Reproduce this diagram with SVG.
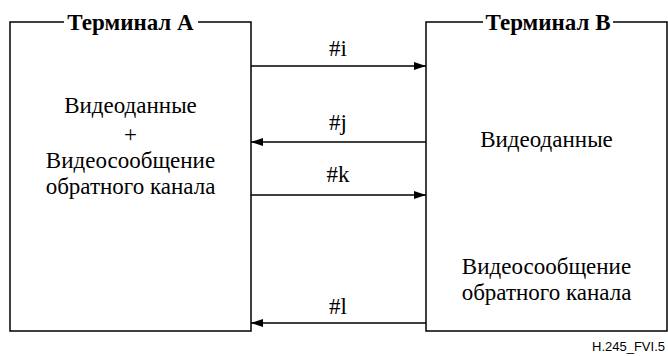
<svg xmlns="http://www.w3.org/2000/svg" width="668" height="356" viewBox="0 0 668 356">
<style>
.box{fill:none;stroke:#000;stroke-width:1.5}
.t{font-family:'Liberation Serif','Times New Roman',serif;font-size:23px;fill:#000;text-anchor:middle}
.title{font-weight:bold;font-size:23px}
.bg{fill:#fff;stroke:none}
.c{stroke:#000;stroke-width:1.5;fill:none}
.note{font-family:'Liberation Sans',Arial,sans-serif;font-size:13px;fill:#000;text-anchor:end}
</style>
<defs>
<marker id="ah" viewBox="0 0 12 8" refX="12" refY="4" markerWidth="12" markerHeight="8" markerUnits="userSpaceOnUse" orient="auto">
<path d="M0,0 L12,4 L0,8 Z" fill="#000"/>
</marker>
</defs>
<g id="terminalA">
<rect class="box" x="10" y="22" width="241" height="309"/>
<rect class="bg" x="64" y="10" width="134" height="22"/>
<text class="t title" x="130.5" y="30">Терминал А</text>
<text class="t" x="130.5" y="113">Видеоданные</text>
<text class="t" x="130.5" y="142">+</text>
<text class="t" x="130.5" y="168">Видеосообщение</text>
<text class="t" x="130.5" y="194">обратного канала</text>
</g>
<g id="terminalB">
<rect class="box" x="426" y="22" width="241" height="309"/>
<rect class="bg" x="483" y="10" width="130" height="22"/>
<text class="t title" x="548" y="30">Терминал В</text>
<text class="t" x="546.5" y="147">Видеоданные</text>
<text class="t" x="546.5" y="274">Видеосообщение</text>
<text class="t" x="546.5" y="300">обратного канала</text>
</g>
<g id="connectors">
<line class="c" x1="251" y1="66" x2="426" y2="66" marker-end="url(#ah)"/>
<text class="t" x="338" y="56">#i</text>
<line class="c" x1="426" y1="142" x2="251" y2="142" marker-end="url(#ah)"/>
<text class="t" x="338" y="130">#j</text>
<line class="c" x1="251" y1="195" x2="426" y2="195" marker-end="url(#ah)"/>
<text class="t" x="338" y="182">#k</text>
<line class="c" x1="426" y1="323" x2="251" y2="323" marker-end="url(#ah)"/>
<text class="t" x="338" y="314">#l</text>
</g>
<text class="note" x="665" y="351">H.245_FVI.5</text>
</svg>
